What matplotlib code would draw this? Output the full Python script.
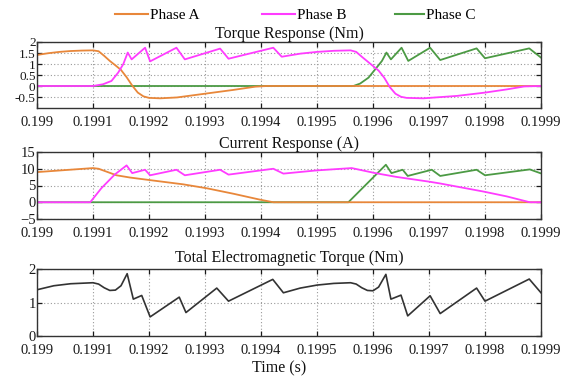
import matplotlib
matplotlib.use("Agg")
import matplotlib.pyplot as plt
from matplotlib.lines import Line2D

plt.rcParams['font.family'] = ['Liberation Serif', 'DejaVu Serif']

# ---------------- data ----------------
xticks = [0.199, 0.1991, 0.1992, 0.1993, 0.1994, 0.1995, 0.1996, 0.1997, 0.1998, 0.1999]
xtick_labels = ["0.199", "0.1991", "0.1992", "0.1993", "0.1994", "0.1995", "0.1996", "0.1997", "0.1998", "0.1999"]

# Torque response (Nm)
tA_torque = [0.19900, 0.19902, 0.19904, 0.19906, 0.19908, 0.19910, 0.19911, 0.19912, 0.19913,
             0.19914, 0.19915, 0.19916, 0.19917, 0.19918, 0.19919, 0.19920, 0.19922, 0.19925,
             0.19930, 0.19935, 0.19939, 0.19941, 0.19990]
vA_torque = [1.41, 1.49, 1.55, 1.59, 1.61, 1.62, 1.58, 1.37, 1.14,
             0.94, 0.73, 0.40, 0.02, -0.30, -0.47, -0.54, -0.56, -0.52,
             -0.35, -0.18, -0.03, 0.0, 0.0]

tB_torque = [0.19900, 0.19910, 0.199118, 0.199133, 0.199145, 0.199154, 0.199162, 0.199169,
             0.199193, 0.199202, 0.199249, 0.199264, 0.199327, 0.199342, 0.199422, 0.199437,
             0.19947, 0.19950, 0.19953, 0.19956, 0.19957, 0.19958, 0.19959, 0.19960, 0.19961,
             0.19962, 0.19963, 0.19964, 0.19965, 0.19966, 0.19969, 0.19975, 0.19980,
             0.19984, 0.19987, 0.19990]
vB_torque = [0.0, 0.0, 0.08, 0.23, 0.61, 0.99, 1.52, 1.21,
             1.74, 1.12, 1.74, 1.21, 1.70, 1.24, 1.74, 1.33,
             1.47, 1.55, 1.60, 1.62, 1.55, 1.33, 1.12, 0.91, 0.70,
             0.38, -0.05, -0.35, -0.49, -0.54, -0.56, -0.45, -0.30,
             -0.15, -0.02, 0.0]

tC_torque = [0.19900, 0.199565, 0.199577, 0.199592, 0.199604, 0.199616, 0.199624, 0.199632,
             0.199651, 0.199663, 0.199702, 0.199720, 0.199785, 0.199800, 0.199879, 0.199900]
vC_torque = [0.0, 0.0, 0.11, 0.38, 0.76, 1.14, 1.52, 1.21,
             1.74, 1.14, 1.74, 1.18, 1.71, 1.26, 1.71, 1.29]

# Current response (A)
tA_current = [0.19900, 0.19910, 0.19911, 0.199142, 0.199166, 0.199202, 0.199261, 0.199303,
              0.199351, 0.199398, 0.199422, 0.19990]
vA_current = [9.0, 10.2, 10.0, 8.05, 7.38, 6.6, 5.35, 4.18,
              2.53, 0.78, 0.0, 0.0]

tB_current = [0.19900, 0.199095, 0.199115, 0.199139, 0.19916, 0.19917, 0.199193, 0.199202,
              0.199249, 0.199264, 0.199327, 0.199342, 0.199422, 0.19944, 0.199499, 0.199562,
              0.199604, 0.199642, 0.199702, 0.19972, 0.199797, 0.199839, 0.19988, 0.19990]
vB_current = [0.0, 0.0, 4.2, 8.3, 11.0, 8.7, 9.7, 8.05,
              9.7, 8.05, 9.7, 8.25, 10.0, 8.55, 9.5, 10.2,
              8.7, 7.56, 6.1, 5.6, 3.2, 1.74, 0.0, 0.0]

tC_current = [0.19900, 0.199556, 0.199623, 0.199633, 0.199653, 0.199662, 0.199705, 0.19972,
              0.199785, 0.19980, 0.19988, 0.199901]
vC_current = [0.0, 0.0, 11.2, 8.7, 9.7, 7.85, 9.7, 7.85,
              9.7, 8.05, 9.8, 8.55]

# Total electromagnetic torque (Nm)
t_total = [0.19900, 0.19903, 0.19906, 0.19910, 0.19911, 0.19912, 0.19913, 0.19914, 0.19915,
           0.199161, 0.199172, 0.199187, 0.199202, 0.199254, 0.199266, 0.199321, 0.199342,
           0.199421, 0.19944, 0.19947, 0.19950, 0.19953, 0.19956, 0.19957, 0.19958, 0.19959,
           0.19960, 0.19961, 0.199623, 0.199632, 0.19965, 0.199662, 0.199702, 0.19972,
           0.199785, 0.199800, 0.199879, 0.19990]
v_total = [1.38, 1.50, 1.56, 1.59, 1.55, 1.44, 1.36, 1.37, 1.50,
           1.86, 1.10, 1.21, 0.57, 1.16, 0.70, 1.43, 1.04,
           1.69, 1.29, 1.43, 1.52, 1.57, 1.59, 1.55, 1.44, 1.36,
           1.35, 1.46, 1.84, 1.10, 1.22, 0.60, 1.20, 0.67,
           1.43, 1.04, 1.70, 1.29]

series_names = ["Phase A", "Phase B", "Phase C"]
colors = {"Phase A": "#E8873A", "Phase B": "#FF3CFF", "Phase C": "#4C9A44"}

# ---------------- figure ----------------
W, H = 569, 377
fig = plt.figure(figsize=(W / 100, H / 100), dpi=100)

def px_axes(left, top, right, bottom):
    return fig.add_axes([left / W, 1 - bottom / H, (right - left) / W, (bottom - top) / H])

ax1 = px_axes(37, 42, 541, 108)
ax2 = px_axes(37, 152, 541, 219)
ax3 = px_axes(37, 269, 541, 336)

lw = 1.3
# draw order: C, A, B (B on top)
ax1.plot(tC_torque, vC_torque, color=colors["Phase C"], lw=lw)
ax1.plot(tA_torque, vA_torque, color=colors["Phase A"], lw=lw)
ax1.plot(tB_torque, vB_torque, color=colors["Phase B"], lw=lw)

ax2.plot(tC_current, vC_current, color=colors["Phase C"], lw=lw)
ax2.plot(tA_current, vA_current, color=colors["Phase A"], lw=lw)
ax2.plot(tB_current, vB_current, color=colors["Phase B"], lw=lw)

ax3.plot(t_total, v_total, color="#333333", lw=1.2)

ax1.set_ylim(-1, 2)
ax1.set_yticks([-0.5, 0, 0.5, 1, 1.5, 2])
ax1.set_yticklabels(["-0.5", "0", "0.5", "1", "1.5", "2"])
ax2.set_ylim(-5, 15)
ax2.set_yticks([-5, 0, 5, 10, 15])
ax3.set_ylim(0, 2)
ax3.set_yticks([0, 1, 2])

titles = ["Torque Response (Nm)", "Current Response (A)", "Total Electromagnetic Torque (Nm)"]
pads = [3, 3, 5]
for ax, title, pad in zip([ax1, ax2, ax3], titles, pads):
    ax.set_xlim(0.199, 0.1999)
    ax.set_xticks(xticks)
    ax.set_xticklabels(xtick_labels)
    ax.grid(True, color="#9a9a9a", linestyle=(0, (1, 2)), linewidth=0.8)
    ax.tick_params(direction="in", length=3.5, width=0.9, top=True, right=True,
                   labelsize=10.5, colors="#1a1a1a")
    ax.tick_params(axis="x", pad=6)
    ax.tick_params(axis="y", pad=1)
    for sp in ax.spines.values():
        sp.set_color("#333333")
        sp.set_linewidth(1.0)
    ax.set_title(title, fontsize=11.5, pad=pad, color="#111111")

# the top panel's y labels are tightly packed in the reference
ax1.tick_params(axis="y", labelsize=9.5)

ax3.set_xlabel("Time (s)", fontsize=11.5, color="#111111")
ax3.xaxis.set_label_coords((279 - 37) / 504, -0.37)

# legend entries placed at the reference positions (line start in pixels)
legend_x = [115, 262, 395]
legend_len = [2.15, 2.15, 1.9]
for name, x0, hl in zip(series_names, legend_x, legend_len):
    fig.legend([Line2D([0], [0], color=colors[name], lw=1.5)], [name],
               loc="center left", bbox_to_anchor=(x0 / W, 1 - 15 / H),
               frameon=False, fontsize=11, handlelength=hl, handletextpad=0.15,
               borderpad=0, borderaxespad=0)

fig.savefig("out.png", dpi=100)
